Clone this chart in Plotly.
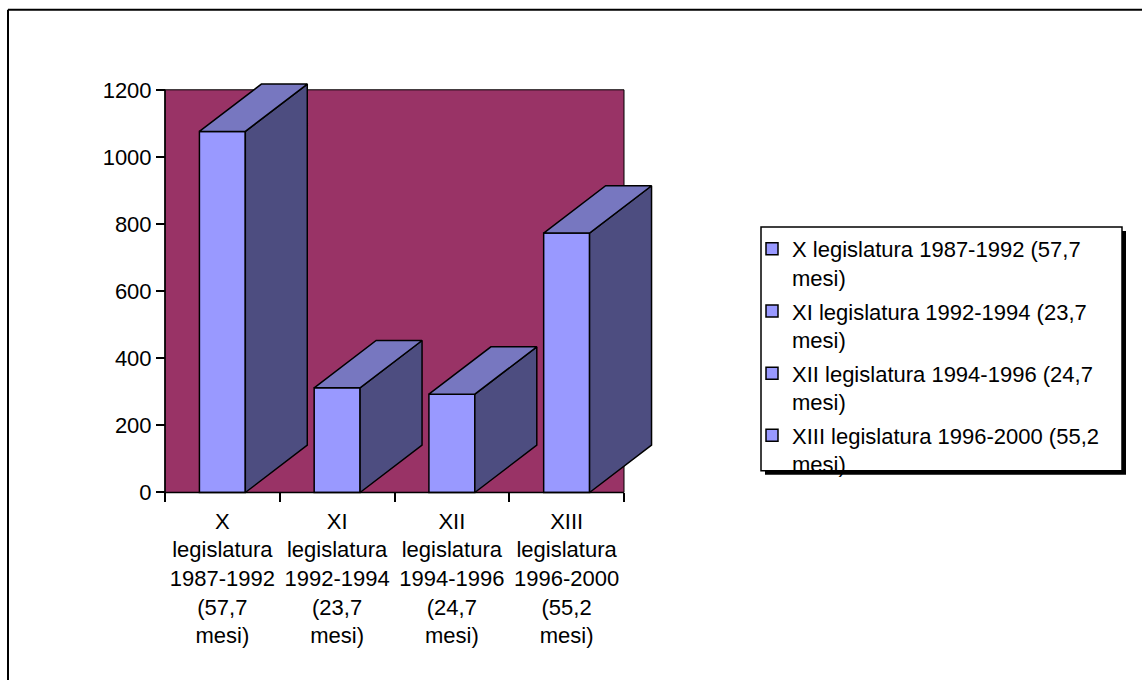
import plotly.graph_objects as go

# ---- data -------------------------------------------------------------
axis_labels = [
    "X<br>legislatura<br>1987-1992<br>(57,7<br>mesi)",
    "XI<br>legislatura<br>1992-1994<br>(23,7<br>mesi)",
    "XII<br>legislatura<br>1994-1996<br>(24,7<br>mesi)",
    "XIII<br>legislatura<br>1996-2000<br>(55,2<br>mesi)",
]
legend_labels = [
    "X legislatura 1987-1992 (57,7<br>mesi)",
    "XI legislatura 1992-1994 (23,7<br>mesi)",
    "XII legislatura 1994-1996 (24,7<br>mesi)",
    "XIII legislatura 1996-2000 (55,2<br>mesi)",
]
values = [1076, 312, 293, 773]
y_ticks = [0, 200, 400, 600, 800, 1000, 1200]

# ---- styling ------------------------------------------------------------
W, H = 1142, 689
FONT = "Liberation Sans, Arial, sans-serif"
FS = 22
FRONT = "#9999FF"
TOP = "#7777C0"
SIDE = "#4D4D80"
WALL = "#993366"

HALF_W = 0.2          # half width of a column (category units)
DEPTH_X = 0.54        # 3-D depth offset along x (category units)
DEPTH_Y = 141         # 3-D depth offset along y (value units)

X_RANGE = [-0.6, 4.1]
Y_RANGE = [-10, 1260]

# pixel frame of the plotting area
PX_X0, PX_UNIT_X = 165, 114.75      # x=-0.5 at 165 px, px per category
PX_Y0, PX_UNIT_Y = 499, 0.34        # y=0 at 499 px, px per value unit


def px_x(v):
    return PX_X0 + (v + 0.5) * PX_UNIT_X


def px_y(v):
    return PX_Y0 - v * PX_UNIT_Y


def paper_x(px):
    return px / W


def paper_y(py):
    return 1 - py / H


fig = go.Figure()

legend_names = ["legend", "legend2", "legend3", "legend4"]

for i, v in enumerate(values):
    # right side face
    fig.add_trace(go.Scatter(
        x=[i + HALF_W, i + HALF_W + DEPTH_X, i + HALF_W + DEPTH_X, i + HALF_W, i + HALF_W],
        y=[0, DEPTH_Y, v + DEPTH_Y, v, 0],
        mode="lines", fill="toself", fillcolor=SIDE,
        line=dict(color="black", width=1.5),
        showlegend=False, hoverinfo="skip",
    ))
    # top face
    fig.add_trace(go.Scatter(
        x=[i - HALF_W, i + HALF_W, i + HALF_W + DEPTH_X, i - HALF_W + DEPTH_X, i - HALF_W],
        y=[v, v, v + DEPTH_Y, v + DEPTH_Y, v],
        mode="lines", fill="toself", fillcolor=TOP,
        line=dict(color="black", width=1.5),
        showlegend=False, hoverinfo="skip",
    ))
    # front face
    fig.add_trace(go.Bar(
        x=[i], y=[v], width=2 * HALF_W,
        marker=dict(color=FRONT, line=dict(color="black", width=1.5)),
        name=legend_labels[i], legend=legend_names[i],
        hovertemplate="%{y}<extra></extra>",
    ))

shapes = [
    # back wall
    dict(type="rect", xref="x", yref="y", x0=-0.5, x1=3.5, y0=0, y1=1200,
         fillcolor=WALL, line=dict(color="black", width=1), layer="below"),
    # axis lines
    dict(type="line", xref="x", yref="y", x0=-0.5, x1=-0.5, y0=0, y1=1200,
         line=dict(color="black", width=1.5), layer="above"),
    dict(type="line", xref="x", yref="y", x0=-0.5, x1=3.5, y0=0, y1=0,
         line=dict(color="black", width=1.5), layer="above"),
    # outer chart frame (top and left edges)
    dict(type="line", xref="paper", yref="paper", x0=paper_x(8), x1=1.0,
         y0=paper_y(10), y1=paper_y(10), line=dict(color="black", width=2)),
    dict(type="line", xref="paper", yref="paper", x0=paper_x(8), x1=paper_x(8),
         y0=paper_y(10), y1=0.0, line=dict(color="black", width=2)),
    # legend shadow and box
    dict(type="rect", xref="paper", yref="paper",
         x0=paper_x(765), x1=paper_x(1126), y0=paper_y(481), y1=paper_y(234),
         fillcolor="black", line=dict(width=0)),
    dict(type="rect", xref="paper", yref="paper",
         x0=paper_x(761), x1=paper_x(1122), y0=paper_y(477), y1=paper_y(230),
         fillcolor="white", line=dict(color="black", width=1.5)),
]

x_dom = [paper_x(px_x(X_RANGE[0])), paper_x(px_x(X_RANGE[1]))]
y_dom = [paper_y(px_y(Y_RANGE[0])), paper_y(px_y(Y_RANGE[1]))]

legend_style = dict(
    font=dict(family=FONT, size=FS, color="black"),
    bgcolor="rgba(0,0,0,0)", borderwidth=0, valign="top",
    xanchor="left", yanchor="top", itemclick=False, itemdoubleclick=False,
)
legend_tops = [231, 294, 357, 420]
layout_legends = {}
for name, top in zip(legend_names, legend_tops):
    layout_legends[name] = dict(legend_style, x=paper_x(752), y=paper_y(top))

fig.update_layout(
    width=W, height=H,
    margin=dict(l=0, r=0, t=0, b=0),
    paper_bgcolor="white", plot_bgcolor="rgba(0,0,0,0)",
    font=dict(family=FONT, size=FS, color="black"),
    barmode="overlay",
    showlegend=True,
    shapes=shapes,
    xaxis=dict(
        domain=x_dom, range=X_RANGE, anchor="free", position=paper_y(PX_Y0),
        tickmode="array", tickvals=list(range(len(axis_labels))), ticktext=axis_labels,
        ticks="outside", ticklen=9, tickcolor="rgba(0,0,0,0)",
        showgrid=False, zeroline=False, showline=False,
        tickfont=dict(family=FONT, size=FS, color="black"),
    ),
    xaxis2=dict(
        domain=x_dom, range=X_RANGE, anchor="free", position=paper_y(PX_Y0),
        overlaying="x", side="bottom",
        tickmode="array", tickvals=[-0.5, 0.5, 1.5, 2.5, 3.5],
        ticks="outside", ticklen=9, tickwidth=1.5, tickcolor="black",
        showticklabels=False, showgrid=False, zeroline=False, showline=False,
    ),
    yaxis=dict(
        domain=y_dom, range=Y_RANGE, anchor="free", position=paper_x(PX_X0),
        tickmode="array", tickvals=y_ticks,
        ticks="outside", ticklen=9, tickwidth=1.5, tickcolor="black",
        showgrid=False, zeroline=False, showline=False,
        tickfont=dict(family=FONT, size=FS, color="black"),
    ),
    **layout_legends,
)

# an invisible trace keeps the tick-only overlay axis drawn
fig.add_trace(go.Scatter(x=[0], y=[0], xaxis="x2", mode="markers",
                         marker=dict(opacity=0), showlegend=False, hoverinfo="skip"))

fig.write_html("out.html")
